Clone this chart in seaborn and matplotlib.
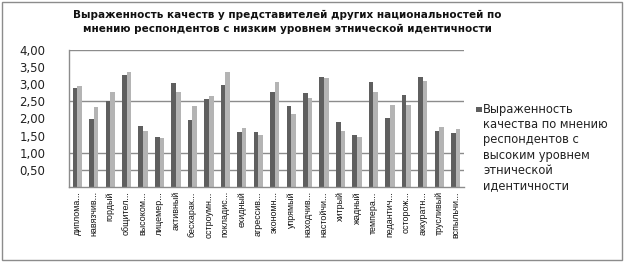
import matplotlib
matplotlib.use("Agg")
import matplotlib.pyplot as plt
from matplotlib.patches import Rectangle
import seaborn as sns
import pandas as pd

categories = ["диплома...", "навязчив...", "гордый", "общител...", "высоком...",
              "лицемер...", "активный", "бесхарак...", "остроумн...", "покладис...",
              "ехидный", "агрессив...", "экономн...", "упрямый", "находчив...",
              "настойчи...", "хитрый", "жадный", "темпера...", "педантич...",
              "осторож...", "аккуратн...", "трусливый", "вспыльчи..."]
high_identity = [2.90, 2.00, 2.51, 3.28, 1.79, 1.47, 3.05, 1.97, 2.58, 2.99,
                 1.62, 1.62, 2.78, 2.37, 2.73, 3.22, 1.91, 1.53, 3.08, 2.02,
                 2.70, 3.22, 1.64, 1.59]
low_identity = [2.96, 2.35, 2.78, 3.37, 1.64, 1.44, 2.78, 2.37, 2.67, 3.37,
                1.73, 1.53, 3.08, 2.14, 2.61, 3.19, 1.64, 1.47, 2.78, 2.40,
                2.40, 3.10, 1.76, 1.70]
series_names = ["Выраженность качества по мнению респондентов с высоким уровнем этнической идентичности",
                "Выраженность качества по мнению респондентов с низким уровнем этнической идентичности"]
yticks = [0.5, 1.0, 1.5, 2.0, 2.5, 3.0, 3.5, 4.0]
ytick_labels = ["0,50", "1,00", "1,50", "2,00", "2,50", "3,00", "3,50", "4,00"]
title = "Выраженность качеств у представителей других национальностей по\nмнению респондентов с низким уровнем этнической идентичности"
legend_text = "Выраженность\nкачества по мнению\nреспондентов с\nвысоким уровнем\nэтнической\nидентичности"

df = pd.DataFrame({
    "cat": categories * 2,
    "val": high_identity + low_identity,
    "series": [series_names[0]] * len(categories) + [series_names[1]] * len(categories),
})

sns.set_style("white")
plt.rcParams["font.family"] = ["DejaVu Sans"]

W, H = 624, 263
fig = plt.figure(figsize=(W / 100, H / 100), dpi=100)
ax = fig.add_axes([69 / W, 1 - 187 / H, (464 - 69) / W, (187 - 50) / H])

dark, light = "#5f5f5f", "#b4b4b4"
sns.barplot(data=df, x="cat", y="val", hue="series", order=categories,
            hue_order=series_names, palette=[dark, light], width=0.56,
            saturation=1, legend=False, ax=ax, linewidth=0)

grid_c = "#8c8c8c"
for g in [0.5, 1.0, 2.5, 4.0]:
    ax.axhline(g, color=grid_c, lw=1, zorder=0)

ax.set_ylim(0, 4.0)
ax.set_xlim(-0.5, len(categories) - 0.5)
ax.set_yticks(yticks)
ax.set_yticklabels(ytick_labels, fontsize=8.5, color="#222222")
ax.tick_params(axis="y", length=0, pad=17)
ax.set_xticks(range(len(categories)))
ax.set_xticklabels(categories, rotation=90, fontsize=6.4,
                   family=["Liberation Sans", "DejaVu Sans"], color="#111111")
ax.tick_params(axis="x", length=0, pad=3)
ax.set_xticks([i + 0.5 for i in range(len(categories) - 1)], minor=True)
ax.tick_params(axis="x", which="minor", length=3, width=0.8, color="#222222")
ax.set_xlabel("")
ax.set_ylabel("")
for s in ["top", "right"]:
    ax.spines[s].set_visible(False)
for s in ["left", "bottom"]:
    ax.spines[s].set_color(grid_c)
    ax.spines[s].set_linewidth(1)

fig.text(287 / W, 1 - 22 / H, title, ha="center", va="center", fontsize=7.5,
         fontweight="bold", color="#111111", linespacing=1.55)

# legend (only the first series is shown in the reference)
fig.patches.append(Rectangle((476 / W, 1 - 112 / H), 5.5 / W, 5.5 / H,
                             transform=fig.transFigure, facecolor=dark,
                             edgecolor="none"))
fig.text(483 / W, 1 - 103 / H, legend_text, ha="left", va="top", fontsize=8.3,
         color="#222222", linespacing=1.22)

fig.patches.append(Rectangle((1.5 / W, 1 - 259.5 / H), 620.5 / W, 258 / H,
                             transform=fig.transFigure, facecolor="none",
                             edgecolor=grid_c, lw=1))

fig.savefig("out.png", dpi=100)
